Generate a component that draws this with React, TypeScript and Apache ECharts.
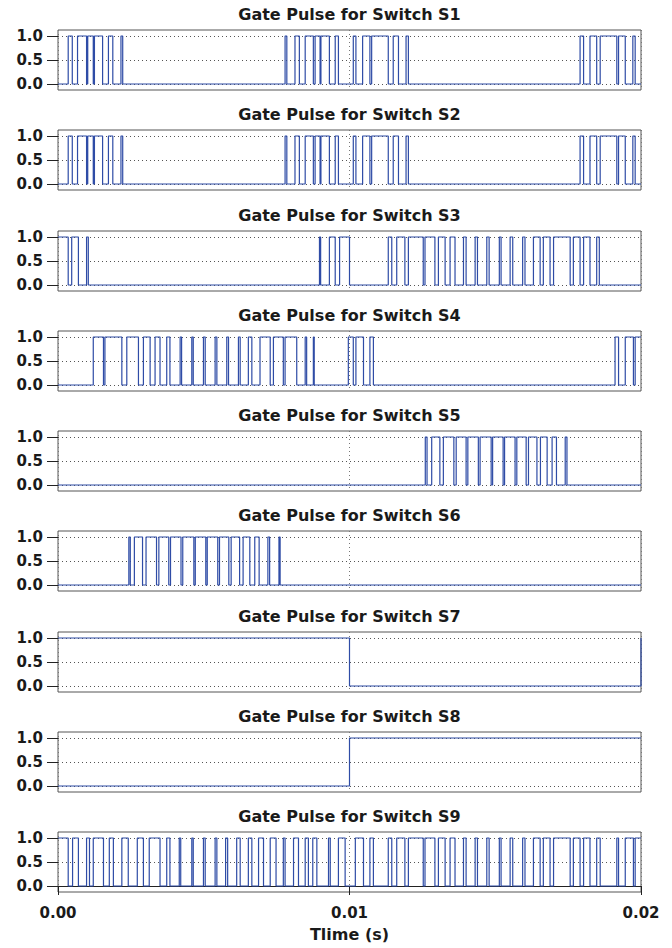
import React, { useEffect, useRef } from "react";
import * as echarts from "echarts";

// ---------- data (times in ms where the gate is high) ----------
const TITLES = [
  "Gate Pulse for Switch S1",
  "Gate Pulse for Switch S2",
  "Gate Pulse for Switch S3",
  "Gate Pulse for Switch S4",
  "Gate Pulse for Switch S5",
  "Gate Pulse for Switch S6",
  "Gate Pulse for Switch S7",
  "Gate Pulse for Switch S8",
  "Gate Pulse for Switch S9",
];
const X_TICKS = [0, 0.01, 0.02];
const Y_TICKS = [0, 0.5, 1.0];
const X_NAME = "Tlime (s)";

const S1_ON = [
  [0.35, 0.49], [0.67, 0.98], [1.02, 1.21], [1.25, 1.53], [1.73, 1.88], [2.16, 2.22],
  [7.79, 7.85], [8.13, 8.28], [8.48, 8.76], [8.82, 8.99], [9.02, 9.31], [9.51, 9.62],
  [10.13, 10.22], [10.45, 10.70], [10.76, 11.33], [11.50, 11.68], [11.94, 12.02],
  [17.91, 18.03], [18.25, 18.48], [18.60, 19.17], [19.23, 19.46], [19.72, 19.80],
];
const S2_ON = [
  [0.35, 0.49], [0.67, 0.98], [1.02, 1.21], [1.25, 1.53], [1.73, 1.88], [2.16, 2.22],
  [7.79, 7.85], [8.13, 8.28], [8.48, 8.76], [8.82, 8.99], [9.02, 9.31], [9.51, 9.62],
  [10.13, 10.22], [10.45, 10.70], [10.76, 11.33], [11.50, 11.68], [11.94, 12.02],
  [17.91, 18.03], [18.25, 18.48], [18.60, 19.17], [19.23, 19.46], [19.72, 19.80],
];
const S3_ON = [
  [0, 0.35], [0.47, 0.70], [0.98, 1.04],
  [8.97, 9.01], [9.31, 9.51], [9.66, 10.0],
  [11.33, 11.45], [11.62, 11.90], [12.02, 12.53], [12.59, 12.93], [13.05, 13.28],
  [13.45, 13.62], [13.91, 14.0], [14.31, 14.39], [14.71, 14.79], [15.14, 15.2],
  [15.51, 15.6], [15.94, 16.02], [16.31, 16.54], [16.65, 16.88], [17.0, 17.57],
  [17.68, 17.91], [18.03, 18.25], [18.48, 18.57],
];
const S4_ON = [
  [1.21, 1.56], [1.61, 2.19], [2.36, 2.76], [2.93, 3.16], [3.33, 3.50], [3.73, 3.84],
  [4.19, 4.24], [4.59, 4.64], [4.99, 5.05], [5.39, 5.45], [5.79, 5.85], [6.19, 6.25],
  [6.53, 6.65], [6.93, 7.28], [7.39, 7.73], [7.79, 8.19], [8.48, 8.53], [8.76, 8.79],
  [9.96, 10.13], [10.22, 10.48], [10.70, 10.82],
  [19.11, 19.23], [19.46, 19.74], [19.8, 20],
];
const S5_ON = [
  [12.6, 12.66], [12.82, 13.1], [13.22, 13.58], [13.66, 14.0], [14.06, 14.42], [14.48, 14.86],
  [14.91, 15.27], [15.32, 15.68], [15.74, 16.06], [16.14, 16.43], [16.55, 16.78], [16.95, 17.1],
  [17.4, 17.46],
];
const S6_ON = [
  [2.43, 2.48], [2.62, 2.9], [3.02, 3.38], [3.46, 3.8], [3.86, 4.22], [4.28, 4.66],
  [4.71, 5.07], [5.12, 5.48], [5.54, 5.86], [5.94, 6.23], [6.35, 6.58], [6.75, 6.9],
  [7.2, 7.26], [7.58, 7.62],
];
const S7_ON = [[0, 10], [20, 20]];
const S8_ON = [[10, 20]];
const S9_ON = [
  [0, 0.35], [0.50, 0.70], [0.98, 1.08], [1.21, 1.56], [1.76, 1.90], [2.19, 2.41],
  [2.72, 2.93], [3.13, 3.50], [3.73, 3.84], [4.16, 4.21], [4.59, 4.64], [4.99, 5.05],
  [5.39, 5.45], [5.75, 5.82], [6.13, 6.25], [6.53, 6.65], [6.88, 7.05], [7.28, 7.48],
  [7.73, 7.79], [8.08, 8.25], [8.48, 8.59], [8.74, 8.88], [9.28, 9.34], [9.62, 9.85],
  [10.2, 10.48], [10.7, 10.82], [11.33, 11.45], [11.62, 11.90], [12.02, 12.53],
  [12.59, 12.93], [13.05, 13.28], [13.45, 13.62], [13.91, 14.0], [14.31, 14.39],
  [14.71, 14.79], [15.14, 15.2], [15.51, 15.6], [15.94, 16.02], [16.31, 16.54],
  [16.65, 16.88], [17.0, 17.57], [17.68, 17.91], [18.03, 18.25], [18.48, 18.6],
  [19.17, 19.23], [19.46, 19.74], [19.8, 20],
];
const PULSES = [S1_ON, S2_ON, S3_ON, S4_ON, S5_ON, S6_ON, S7_ON, S8_ON, S9_ON];

// ---------- helpers ----------
function toSteps(on: number[][]): number[][] {
  const pts: number[][] = [];
  let first = true;
  for (const [a, b] of on) {
    const ta = a / 1000;
    const tb = b / 1000;
    if (first) {
      if (a > 0) pts.push([0, 0]);
      first = false;
    }
    if (a > 0) pts.push([ta, 0]);
    pts.push([ta, 1]);
    pts.push([tb, 1]);
    if (b < 20 || a === b) pts.push([tb, 0]);
  }
  const last = pts[pts.length - 1];
  if (last[0] < 0.02) pts.push([0.02, last[1]]);
  return pts;
}

const FONT = "DejaVu Sans";
const LEFT = 58;
const RIGHT = 31;
const PITCH = 100.25;
const BOX_TOP = 30;
const BOX_H = 60;
const PAD = 6;

export default function App() {
  const ref = useRef<HTMLDivElement>(null);
  useEffect(() => {
    document.body.style.margin = "0";
    if (!ref.current) return;
    const chart = echarts.init(ref.current, null, { renderer: "svg" });
    const n = PULSES.length;
    const grid: any[] = [];
    const xAxis: any[] = [];
    const yAxis: any[] = [];
    const series: any[] = [];
    const graphic: any[] = [];
    for (let i = 0; i < n; i++) {
      const top = Math.round(BOX_TOP + PITCH * i);
      const isLast = i === n - 1;
      grid.push({ left: LEFT, right: RIGHT, top, height: BOX_H, show: true, borderColor: "#555", borderWidth: 1, backgroundColor: "transparent" });
      grid.push({ left: LEFT, right: RIGHT, top: top + PAD, height: BOX_H - 2 * PAD, show: false });
      xAxis.push({
        type: "value", gridIndex: 2 * i, min: 0, max: 0.02, interval: 0.01,
        axisLine: { show: isLast, lineStyle: { color: "#222", width: 1 } },
        axisTick: { show: isLast, length: 9, lineStyle: { color: "#222" } },
        axisLabel: {
          show: isLast, margin: 13, fontFamily: FONT, fontWeight: "bold", fontSize: 15, color: "#1a1a1a",
          formatter: (v: number) => (X_TICKS.indexOf(v) >= 0 ? v.toFixed(2) : ""),
        },
        splitLine: { show: true, lineStyle: { type: [1, 3], color: "#777", width: 1 } },
        name: isLast ? X_NAME : "", nameLocation: "middle", nameGap: 34,
        nameTextStyle: { fontFamily: FONT, fontWeight: "bold", fontSize: 16, color: "#1a1a1a" },
      });
      xAxis.push({ type: "value", gridIndex: 2 * i + 1, min: 0, max: 0.02, show: false });
      yAxis.push({ type: "value", gridIndex: 2 * i, min: -PAD / (BOX_H - 2 * PAD), max: 1 + PAD / (BOX_H - 2 * PAD), show: false });
      yAxis.push({
        type: "value", gridIndex: 2 * i + 1, min: Y_TICKS[0], max: Y_TICKS[2], interval: 0.5,
        axisLine: { show: false },
        axisTick: { show: true, length: 11, lineStyle: { color: "#222" } },
        axisLabel: { margin: 15, fontFamily: FONT, fontWeight: "bold", fontSize: 15, color: "#1a1a1a", formatter: (v: number) => v.toFixed(1) },
        splitLine: { show: true, lineStyle: { type: [1, 3], color: "#555", width: 1 } },
      });
      series.push({
        type: "line", xAxisIndex: 2 * i, yAxisIndex: 2 * i, data: toSteps(PULSES[i]),
        showSymbol: false, symbol: "none", clip: false,
        lineStyle: { color: "#2f4ca6", width: 1.2 }, silent: true,
      });
      graphic.push({
        type: "text", x: LEFT + (672 - LEFT - RIGHT) / 2, y: top - 16,
        style: { text: TITLES[i], textAlign: "center", textVerticalAlign: "middle", font: `bold 16px "${FONT}"`, fill: "#1a1a1a" },
      });
    }
    chart.setOption({ animation: false, backgroundColor: "#fff", grid, xAxis, yAxis, series, graphic });
    return () => chart.dispose();
  }, []);
  return <div ref={ref} style={{ width: 672, height: 948 }} />;
}
